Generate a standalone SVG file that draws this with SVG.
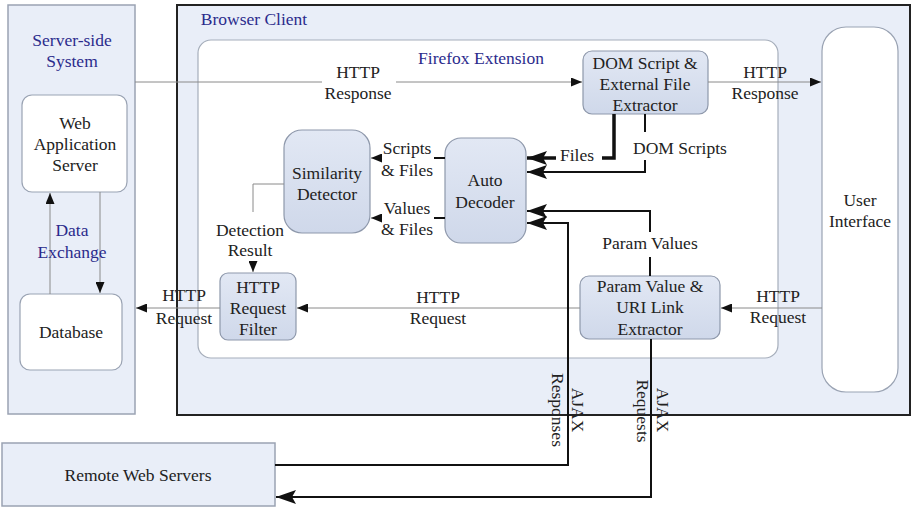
<svg xmlns="http://www.w3.org/2000/svg" width="913" height="508" viewBox="0 0 913 508">
<defs>
<linearGradient id="g" x1="0" y1="0" x2="0" y2="1"><stop offset="0" stop-color="#e2e8f4"/><stop offset="1" stop-color="#cfd8ea"/></linearGradient>
<marker id="a" markerUnits="userSpaceOnUse" markerWidth="11" markerHeight="9" refX="11" refY="4.5" orient="auto"><path d="M0,0 L11,4.5 L0,9 Z" fill="#111"/></marker>
<marker id="ab" markerUnits="userSpaceOnUse" markerWidth="20" markerHeight="14" refX="20" refY="7" orient="auto"><path d="M0,0 L20,7 L0,14 L4,7 Z" fill="#111"/></marker>
<style>
text{font-family:'Liberation Serif','Times New Roman',Times,'DejaVu Serif',serif;font-size:17.5px;fill:#222;text-anchor:middle}
.blue{fill:#2b2b8c}
.panel{fill:#e9eef8;stroke:#9aa3b3;stroke-width:1.5}
.wbox{fill:#fff;stroke:#9aa3b3;stroke-width:1.2}
.cbox{fill:url(#g);stroke:#8e98ab;stroke-width:1.2}
.thin{fill:none;stroke:#8a8a8a;stroke-width:1}
.dark{fill:none;stroke:#111;stroke-width:2}
.thick{fill:none;stroke:#111;stroke-width:3.5}
</style>
</defs>
<g id="server-side">
<rect class="panel" x="8" y="5" width="127" height="409"/>
<text class="blue" x="72" y="46">Server-side</text>
<text class="blue" x="72" y="67">System</text>
</g>
<g id="browser-client">
<rect x="177" y="5" width="733" height="410" fill="#e9eef8" stroke="#222" stroke-width="2"/>
<text class="blue" x="254" y="25">Browser Client</text>
</g>
<g id="firefox-extension">
<rect x="198" y="40" width="580" height="318" rx="13" fill="#fff" stroke="#a6aebb" stroke-width="1.2"/>
<text class="blue" x="481" y="64">Firefox Extension</text>
</g>
<g id="web-app-server">
<rect class="wbox" x="22" y="95" width="105" height="97" rx="10"/>
<text x="75" y="129">Web</text>
<text x="75" y="150">Application</text>
<text x="75" y="171">Server</text>
</g>
<g id="database">
<rect class="wbox" x="20" y="294" width="102" height="76" rx="10"/>
<text x="71" y="338">Database</text>
</g>
<g id="remote-web-servers">
<rect class="panel" x="2" y="443" width="273" height="63"/>
<text x="138" y="481">Remote Web Servers</text>
</g>
<g id="user-interface">
<rect class="wbox" x="822" y="27" width="76" height="365" rx="24"/>
<text x="860" y="206">User</text>
<text x="860" y="227">Interface</text>
</g>
<g id="dom-extractor">
<rect class="cbox" x="583" y="51" width="125" height="63" rx="9"/>
<text x="645" y="69">DOM Script &amp;</text>
<text x="645" y="90">External File</text>
<text x="645" y="111">Extractor</text>
</g>
<g id="similarity-detector">
<rect class="cbox" x="284" y="130" width="86" height="103" rx="18"/>
<text x="327" y="179">Similarity</text>
<text x="327" y="200">Detector</text>
</g>
<g id="auto-decoder">
<rect class="cbox" x="445" y="138" width="81" height="105" rx="16"/>
<text x="485" y="186">Auto</text>
<text x="485" y="208">Decoder</text>
</g>
<g id="http-request-filter">
<rect class="cbox" x="220" y="273" width="76" height="67" rx="8"/>
<text x="258" y="293">HTTP</text>
<text x="258" y="314">Request</text>
<text x="258" y="335">Filter</text>
</g>
<g id="param-extractor">
<rect class="cbox" x="580" y="276" width="140" height="63" rx="9"/>
<text x="650" y="292">Param Value &amp;</text>
<text x="650" y="313">URI Link</text>
<text x="650" y="335">Extractor</text>
</g>
<g id="connectors">
<path class="thin" d="M50,294 V193" marker-end="url(#a)"/>
<path class="thin" d="M100,192 V293" marker-end="url(#a)"/>
<path class="thin" d="M135,82 H322 M396,82 H582" marker-end="url(#a)"/>
<path class="thin" d="M708,82 H821" marker-end="url(#a)"/>
<path class="thin" d="M822,308 H721" marker-end="url(#a)"/>
<path class="thin" d="M580,308 H297" marker-end="url(#a)"/>
<path class="thin" d="M220,308 H136" marker-end="url(#a)"/>
<path class="thin" d="M284,184 H253 V212"/>
<path class="thin" d="M253,261 V272" marker-end="url(#a)"/>
<path class="dark" d="M445,158 H434"/>
<path class="thin" d="M381,158 H371" marker-end="url(#a)"/>
<path class="dark" d="M445,218 H434"/>
<path class="thin" d="M381,218 H371" marker-end="url(#a)"/>
<path class="thick" d="M614,114 V158 H602"/>
<path class="thick" d="M556,158 H527" marker-end="url(#ab)"/>
<path class="dark" d="M645,114 V132 M645,160 V172 H527" marker-end="url(#ab)"/>
<path class="dark" d="M650,276 V257 M650,232 V211 H527" marker-end="url(#ab)"/>
<path class="dark" d="M275,465 H568 V223 H527" marker-end="url(#ab)"/>
<path class="dark" d="M651,339 V497 H276" marker-end="url(#ab)"/>
</g>
<g id="labels">
<text class="blue" x="72" y="236">Data</text>
<text class="blue" x="72" y="258">Exchange</text>
<text x="358" y="78">HTTP</text>
<text x="358" y="99">Response</text>
<text x="765" y="78">HTTP</text>
<text x="765" y="99">Response</text>
<text x="577" y="161">Files</text>
<text x="680" y="154">DOM Scripts</text>
<text x="407" y="154">Scripts</text>
<text x="407" y="176">&amp; Files</text>
<text x="407" y="214">Values</text>
<text x="407" y="235">&amp; Files</text>
<text x="250" y="236">Detection</text>
<text x="250" y="256">Result</text>
<text x="650" y="249">Param Values</text>
<text x="778" y="302">HTTP</text>
<text x="778" y="323">Request</text>
<text x="438" y="303">HTTP</text>
<text x="438" y="324">Request</text>
<text x="184" y="301">HTTP</text>
<text x="184" y="324">Request</text>
<text transform="translate(572,410) rotate(90)">AJAX</text>
<text transform="translate(552,410) rotate(90)">Responses</text>
<text transform="translate(657,410) rotate(90)">AJAX</text>
<text transform="translate(637,411) rotate(90)">Requests</text>
</g>
</svg>
